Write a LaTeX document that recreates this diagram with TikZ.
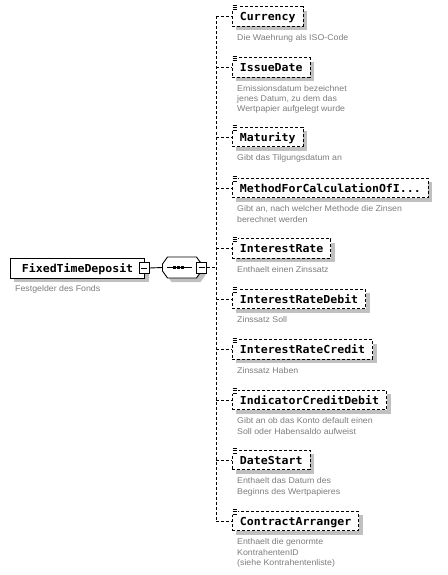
\documentclass[tikz,border=0pt]{standalone}
\usepackage{fontspec}
\newfontfamily\lblfont[FakeStretch=1.05]{DejaVu Sans Mono}
\newfontfamily\dscfont[FakeStretch=1.06]{Liberation Sans}
\usetikzlibrary{shadows,calc}
\definecolor{dsc}{RGB}{125,125,125}
\definecolor{shd}{RGB}{192,192,192}
\tikzset{
  lbl/.style={font=\lblfont\bfseries\fontsize{11}{12}\selectfont},
  elem/.style={lbl, draw, line width=0.9pt, dash pattern=on 3pt off 2pt, fill=white,
    minimum height=19.5pt, inner xsep=7.5pt, inner ysep=0pt, text height=8pt, text depth=0pt,
    anchor=west, drop shadow={shadow xshift=4pt, shadow yshift=-4pt, fill=shd, opacity=1}},
  rootbox/.style={lbl, draw, line width=0.9pt, fill=white,
    minimum height=20pt, inner xsep=11.5pt, inner ysep=0pt, text height=8pt, text depth=0pt,
    anchor=west, drop shadow={shadow xshift=4pt, shadow yshift=-4pt, fill=shd, opacity=1}},
  desc/.style={anchor=north west, inner sep=0pt, align=left,
    font=\dscfont\fontsize{8.3}{10.3}\selectfont, text=dsc},
  minusbox/.style={draw, line width=0.9pt, fill=white, minimum width=10pt, minimum height=11pt,
    inner sep=0pt, path picture={\draw[line width=0.9pt]
      ([xshift=2pt]path picture bounding box.west) -- ([xshift=-2pt]path picture bounding box.east);}},
  conn/.style={line width=0.9pt, dash pattern=on 3pt off 2pt},
}
\newcommand\childitem[4]{%
  \node[elem] (#1) at (232,#2) {#3};
  \fill[white] ([shift={(-0.5pt,2.6pt)}]#1.north west) rectangle ([shift={(5.5pt,-4.4pt)}]#1.north west);
  \foreach \dd in {1.3,-1,-3.3} \draw[line width=0.8pt] ([shift={(0.5pt,\dd pt)}]#1.north west) -- ++(4.5pt,0);
  \node[desc] (#1d) at ([shift={(5pt,-17.6pt)}]#1.west) {#4};
  \draw[conn] (#1.west -| spt) -- (#1.west);
}
\begin{document}
\begin{tikzpicture}[x=1pt,y=1pt]
\useasboundingbox[fill=white] (0,0) rectangle (447,-575);
% root
\node[rootbox] (root) at (10,-268) {FixedTimeDeposit};
\node[minusbox] (rootm) at ([xshift=-1pt]root.east) {};
\node[desc] (rootd) at (15,-285.6) {Festgelder des Fonds};
% sequence compositor
\fill[shd] (166.5,-268) -- (171.5,-261) -- (200.5,-261) -- (205.5,-268) -- (205.5,-275) -- (200.5,-282) -- (171.5,-282) -- (166.5,-275) -- cycle;
\draw[line width=0.9pt, fill=white] (162.5,-264) -- (167.5,-257) -- (196.5,-257) -- (201.5,-264) -- (201.5,-271) -- (196.5,-278) -- (167.5,-278) -- (162.5,-271) -- cycle;
\node[inner sep=0pt, minimum width=39pt, minimum height=21pt] (seq) at (182,-267.5) {};
\draw[line width=0.9pt] (167,-267.5) -- (192,-267.5);
\fill (172.5,-266) rectangle (175.5,-269);
\fill (176.5,-266) rectangle (179.5,-269);
\fill (180.5,-266) rectangle (183.5,-269);
\node[minusbox] (seqm) at (201.5,-267.5) {};
\draw[line width=0.9pt] (rootm.east) -- (seq.west);
% spine
\coordinate (spt) at (216,-16.5);
\coordinate (spb) at (216,-521);
\draw[conn] (seqm.east) -- (seqm.east -| spt);
\draw[conn] (spt) -- (spb);
% children
\childitem{cur}{-16.5}{Currency}{Die Waehrung als ISO-Code}
\childitem{iss}{-67.5}{IssueDate}{Emissionsdatum bezeichnet\\jenes Datum, zu dem das\\Wertpapier aufgelegt wurde}
\childitem{mat}{-137}{Maturity}{Gibt das Tilgungsdatum an}
\childitem{met}{-188}{MethodForCalculationOfI...}{Gibt an, nach welcher Methode die Zinsen\\berechnet werden}
\childitem{ir}{-248.5}{InterestRate}{Enthaelt einen Zinssatz}
\childitem{ird}{-299}{InterestRateDebit}{Zinssatz Soll}
\childitem{irc}{-349.5}{InterestRateCredit}{Zinssatz Haben}
\childitem{icd}{-400}{IndicatorCreditDebit}{Gibt an ob das Konto default einen\\Soll oder Habensaldo aufweist}
\childitem{ds}{-460}{DateStart}{Enthaelt das Datum des\\Beginns des Wertpapieres}
\childitem{ca}{-521}{ContractArranger}{Enthaelt die genormte\\KontrahentenID\\(siehe Kontrahentenliste)}
\end{tikzpicture}
\end{document}
